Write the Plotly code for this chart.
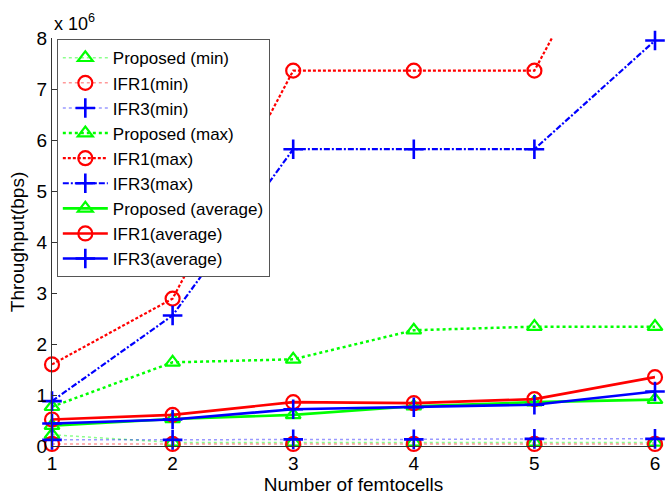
import plotly.graph_objects as go

x = [1, 2, 3, 4, 5, 6]

prop_min = [0.22, 0.07, 0.07, 0.07, 0.07, 0.07]
ifr1_min = [0.04, 0.04, 0.04, 0.04, 0.04, 0.04]
ifr3_min = [0.12, 0.12, 0.13, 0.13, 0.14, 0.14]

prop_max = [0.77, 1.64, 1.70, 2.27, 2.34, 2.34]
ifr1_max = [1.60, 2.89, 7.36, 7.36, 7.36, 11.75]
ifr3_max = [0.88, 2.56, 5.82, 5.82, 5.82, 7.95]

prop_avg = [0.40, 0.53, 0.61, 0.78, 0.86, 0.91]
ifr1_avg = [0.52, 0.61, 0.86, 0.84, 0.92, 1.35]
ifr3_avg = [0.44, 0.52, 0.72, 0.76, 0.81, 1.07]

scale = 1e6
y_ticks = [0, 1, 2, 3, 4, 5, 6, 7, 8]
y_ticktext = ["0", "1", "2", "3", "4", "5", "6", "7", "8"]

GREEN = "rgb(0,255,0)"
RED = "rgb(255,0,0)"
BLUE = "rgb(0,0,255)"

def sc(v):
    return [a * scale for a in v]

fig = go.Figure()

def add(name, y, color, dash, width, symbol, msize, lcolor=None, mlw=2.2):
    fig.add_trace(go.Scatter(
        x=x, y=sc(y), name=name, mode="lines+markers",
        line=dict(color=lcolor or color, dash=dash, width=width),
        marker=dict(symbol=symbol, size=msize, color=color,
                    line=dict(color=color, width=mlw)),
        cliponaxis=False,
    ))

# min series (thin, light dotted)
add("Proposed (min)", prop_min, GREEN, "dot", 1.5, "triangle-up-open", 13, "rgba(0,255,0,0.45)")
add("IFR1(min)", ifr1_min, RED, "dot", 1.5, "circle-open", 14, "rgba(255,0,0,0.4)")
add("IFR3(min)", ifr3_min, BLUE, "dot", 1.5, "cross-thin-open", 14, "rgba(0,0,255,0.4)", 2.6)
# max series
add("Proposed (max)", prop_max, GREEN, "3px,3px", 2.5, "triangle-up-open", 13)
add("IFR1(max)", ifr1_max, RED, "3px,2px", 2.2, "circle-open", 14)
add("IFR3(max)", ifr3_max, BLUE, "6px,2px,2px,2px", 2.2, "cross-thin-open", 14, None, 2.6)
# average series
add("Proposed (average)", prop_avg, GREEN, "solid", 2.6, "triangle-up-open", 13)
add("IFR1(average)", ifr1_avg, RED, "solid", 2.6, "circle-open", 14)
add("IFR3(average)", ifr3_avg, BLUE, "solid", 2.6, "cross-thin-open", 14, None, 2.6)

FONT = "Liberation Sans, Arial, sans-serif"

fig.update_layout(
    width=665, height=498,
    margin=dict(l=52, r=5, t=38, b=52),
    paper_bgcolor="white", plot_bgcolor="white",
    font=dict(family=FONT, size=19, color="black"),
    showlegend=True,
    legend=dict(
        x=0.008, y=0.997, xanchor="left", yanchor="top",
        bgcolor="white", bordercolor="#555555", borderwidth=1,
        font=dict(family=FONT, size=17, color="black"),
        itemwidth=45, traceorder="normal",
    ),
    xaxis=dict(
        range=[1, 6], tickvals=x, ticktext=[str(v) for v in x],
        ticks="inside", ticklen=5, tickcolor="#333333",
        showline=True, linecolor="#333333", linewidth=1,
        showgrid=False, zeroline=False, ticklabeloverflow="allow",
        title=dict(text="Number of femtocells", font=dict(size=19), standoff=4),
        tickfont=dict(size=19),
    ),
    yaxis=dict(
        range=[0, 8 * scale], tickvals=sc(y_ticks), ticktext=y_ticktext,
        ticks="inside", ticklen=5, tickcolor="#333333",
        showline=True, linecolor="#333333", linewidth=1,
        showgrid=False, zeroline=False, ticklabeloverflow="allow",
        title=dict(text="Throughput(bps)", font=dict(size=19), standoff=6),
        tickfont=dict(size=19),
    ),
    annotations=[dict(
        x=0, y=1, xref="paper", yref="paper", xanchor="left", yanchor="bottom",
        xshift=0, yshift=2, showarrow=False,
        text="x 10<sup>6</sup>", font=dict(family=FONT, size=18),
    )],
)

fig.write_html("out.html")
